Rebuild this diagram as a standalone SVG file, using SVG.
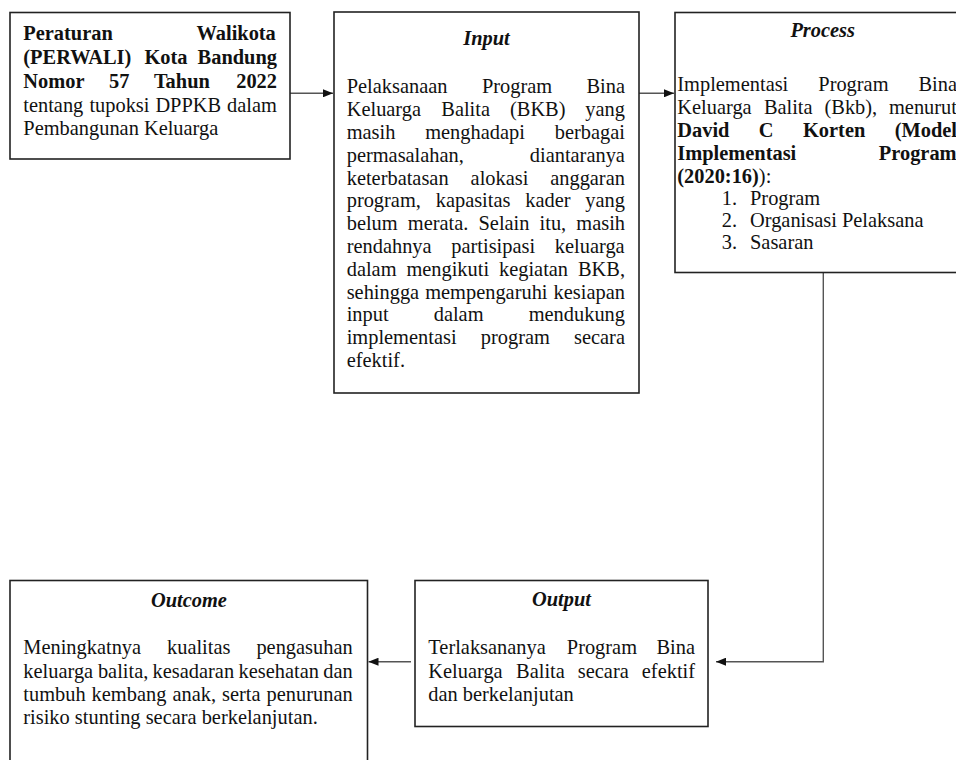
<svg xmlns="http://www.w3.org/2000/svg" width="956" height="760" viewBox="0 0 956 760">
<style>
.box{fill:#fff;stroke:#222;stroke-width:1.6}
.t{font-family:"Liberation Serif","Times New Roman",serif;font-size:20.4px;fill:#111}
.b{font-weight:bold}
.h{font-weight:bold;font-style:italic;text-anchor:middle}
.c{fill:none;stroke:#555;stroke-width:1.4}
</style>
<defs>
<marker id="ah" viewBox="0 0 10 8" refX="10" refY="4" markerWidth="10" markerHeight="8" orient="auto" markerUnits="userSpaceOnUse"><path d="M0,0 L10,4 L0,8 z" fill="#111"/></marker>
</defs>
<rect width="956" height="760" fill="#fff"/>
<g id="connectors">
<path class="c" d="M290 93.3 H333" marker-end="url(#ah)"/>
<path class="c" d="M639 93.3 H674" marker-end="url(#ah)"/>
<path class="c" d="M823.3 272.5 V661.7 H716" marker-end="url(#ah)"/>
<path class="c" d="M411 661.7 H368.5" marker-end="url(#ah)"/>
</g>
<g id="perwali">
<rect class="box" x="10" y="12.5" width="280" height="146.5"/>
<text class="t b"><tspan x="23.3" y="39.5">Peraturan</tspan><tspan x="196.5" y="39.5">Walikota</tspan></text>
<text class="t b"><tspan x="23.3" y="63.5">(PERWALI)</tspan><tspan x="144.5" y="63.5">Kota</tspan><tspan x="197.6" y="63.5">Bandung</tspan></text>
<text class="t b"><tspan x="23.3" y="87.5">Nomor</tspan><tspan x="109" y="87.5">57</tspan><tspan x="153.9" y="87.5">Tahun</tspan><tspan x="236.2" y="87.5">2022</tspan></text>
<text class="t"><tspan x="23.3" y="111.5">tentang</tspan><tspan x="89.4" y="111.5">tupoksi</tspan><tspan x="155.4" y="111.5">DPPKB</tspan><tspan x="227.1" y="111.5">dalam</tspan></text>
<text class="t" x="23.3" y="135.3">Pembangunan Keluarga</text>
</g>
<g id="input">
<rect class="box" x="334" y="12" width="305" height="381"/>
<text class="t h" x="486.5" y="45">Input</text>
<text class="t"><tspan x="346.7" y="93.3">Pelaksanaan</tspan><tspan x="481.9" y="93.3">Program</tspan><tspan x="586.5" y="93.3">Bina</tspan></text>
<text class="t"><tspan x="346.7" y="116.1">Keluarga</tspan><tspan x="441.3" y="116.1">Balita</tspan><tspan x="510" y="116.1">(BKB)</tspan><tspan x="585.3" y="116.1">yang</tspan></text>
<text class="t"><tspan x="346.7" y="138.9">masih</tspan><tspan x="425.2" y="138.9">menghadapi</tspan><tspan x="554.8" y="138.9">berbagai</tspan></text>
<text class="t"><tspan x="346.7" y="161.7">permasalahan,</tspan><tspan x="529.8" y="161.7">diantaranya</tspan></text>
<text class="t"><tspan x="346.7" y="184.5">keterbatasan</tspan><tspan x="470.6" y="184.5">alokasi</tspan><tspan x="550.2" y="184.5">anggaran</tspan></text>
<text class="t"><tspan x="346.7" y="207.3">program,</tspan><tspan x="435.7" y="207.3">kapasitas</tspan><tspan x="525.3" y="207.3">kader</tspan><tspan x="585.3" y="207.3">yang</tspan></text>
<text class="t"><tspan x="346.7" y="230.1">belum</tspan><tspan x="407.8" y="230.1">merata.</tspan><tspan x="478.5" y="230.1">Selain</tspan><tspan x="539.6" y="230.1">itu,</tspan><tspan x="576.3" y="230.1">masih</tspan></text>
<text class="t"><tspan x="346.7" y="252.9">rendahnya</tspan><tspan x="451.3" y="252.9">partisipasi</tspan><tspan x="554.8" y="252.9">keluarga</tspan></text>
<text class="t"><tspan x="346.7" y="275.7">dalam</tspan><tspan x="406.4" y="275.7">mengikuti</tspan><tspan x="499" y="275.7">kegiatan</tspan><tspan x="578" y="275.7">BKB,</tspan></text>
<text class="t"><tspan x="346.7" y="298.5">sehingga</tspan><tspan x="425.2" y="298.5">mempengaruhi</tspan><tspan x="553.6" y="298.5">kesiapan</tspan></text>
<text class="t"><tspan x="346.7" y="321.3">input</tspan><tspan x="433.7" y="321.3">dalam</tspan><tspan x="528.7" y="321.3">mendukung</tspan></text>
<text class="t"><tspan x="346.7" y="344.1">implementasi</tspan><tspan x="480.8" y="344.1">program</tspan><tspan x="574" y="344.1">secara</tspan></text>
<text class="t" x="346.7" y="366.9">efektif.</text>
</g>
<g id="process">
<rect class="box" x="675" y="12.5" width="300" height="260"/>
<text class="t h" x="822.7" y="37.3">Process</text>
<text class="t"><tspan x="677.3" y="90.8">Implementasi</tspan><tspan x="818.3" y="90.8">Program</tspan><tspan x="918.5" y="90.8">Bina</tspan></text>
<text class="t"><tspan x="677.3" y="113.9">Keluarga</tspan><tspan x="763.9" y="113.9">Balita</tspan><tspan x="824.5" y="113.9">(Bkb),</tspan><tspan x="889" y="113.9">menurut</tspan></text>
<text class="t b"><tspan x="677.3" y="137">David</tspan><tspan x="758.8" y="137">C</tspan><tspan x="803" y="137">Korten</tspan><tspan x="894.7" y="137">(Model</tspan></text>
<text class="t b"><tspan x="677.3" y="160.1">Implementasi</tspan><tspan x="878.8" y="160.1">Program</tspan></text>
<text class="t" x="677.3" y="183.2"><tspan class="b">(2020:16)</tspan>):</text>
<text class="t"><tspan x="721.7" y="204.5">1.</tspan><tspan x="750" y="204.5">Program</tspan></text>
<text class="t"><tspan x="721.7" y="226.5">2.</tspan><tspan x="750" y="226.5">Organisasi Pelaksana</tspan></text>
<text class="t"><tspan x="721.7" y="248.5">3.</tspan><tspan x="750" y="248.5">Sasaran</tspan></text>
</g>
<g id="outcome">
<rect class="box" x="10" y="580.5" width="357.5" height="200"/>
<text class="t h" x="188.9" y="607">Outcome</text>
<text class="t"><tspan x="23.3" y="654.3">Meningkatnya</tspan><tspan x="167" y="654.3">kualitas</tspan><tspan x="256.4" y="654.3">pengasuhan</tspan></text>
<text class="t"><tspan x="23.3" y="677.6">keluarga</tspan><tspan x="97.9" y="677.6">balita,</tspan><tspan x="152.6" y="677.6">kesadaran</tspan><tspan x="238.5" y="677.6">kesehatan</tspan><tspan x="323.2" y="677.6">dan</tspan></text>
<text class="t"><tspan x="23.3" y="700.9">tumbuh</tspan><tspan x="91.6" y="700.9">kembang</tspan><tspan x="172.4" y="700.9">anak,</tspan><tspan x="222" y="700.9">serta</tspan><tspan x="266.6" y="700.9">penurunan</tspan></text>
<text class="t" x="23.3" y="724.2">risiko stunting secara berkelanjutan.</text>
</g>
<g id="output">
<rect class="box" x="415" y="580.5" width="293" height="146"/>
<text class="t h" x="561.5" y="606">Output</text>
<text class="t"><tspan x="428.3" y="654.3">Terlaksananya</tspan><tspan x="566.8" y="654.3">Program</tspan><tspan x="656.5" y="654.3">Bina</tspan></text>
<text class="t"><tspan x="428.3" y="677.6">Keluarga</tspan><tspan x="516.1" y="677.6">Balita</tspan><tspan x="577.8" y="677.6">secara</tspan><tspan x="641.8" y="677.6">efektif</tspan></text>
<text class="t" x="428.3" y="700.9">dan berkelanjutan</text>
</g>
</svg>
